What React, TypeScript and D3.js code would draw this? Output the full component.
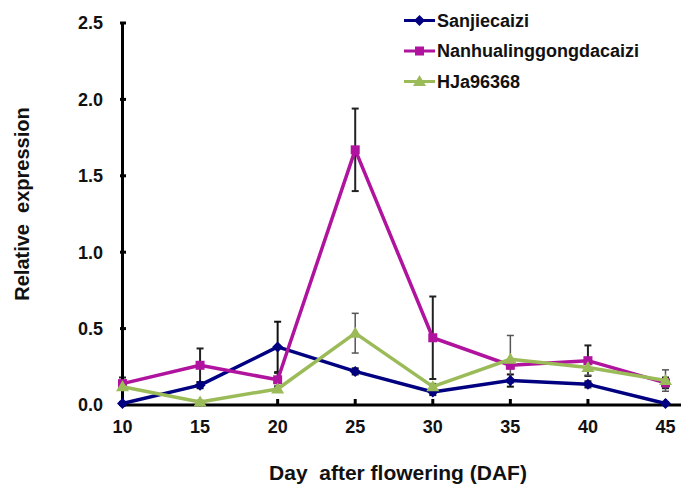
import React from "react";
import * as d3 from "d3";

const days = [10, 15, 20, 25, 30, 35, 40, 45];
const sanjie = [0.01, 0.13, 0.38, 0.22, 0.085, 0.16, 0.135, 0.01];
const sanjieErr = [0.01, 0.02, 0.165, 0.02, 0.02, 0.04, 0.02, 0.01];
const nanhua = [0.14, 0.26, 0.165, 1.67, 0.44, 0.26, 0.29, 0.145];
const nanhuaErr = [0.04, 0.11, 0.045, 0.27, 0.27, 0.02, 0.1, 0.035];
const hja = [0.12, 0.02, 0.105, 0.47, 0.12, 0.3, 0.245, 0.16];
const hjaErr = [0.02, 0.01, 0.02, 0.13, 0.02, 0.155, 0.05, 0.07];
const yTicks = [0, 0.5, 1.0, 1.5, 2.0, 2.5];
const seriesNames = ["Sanjiecaizi", "Nanhualinggongdacaizi", "HJa96368"];

const FONT = "Arial, 'Liberation Sans', Helvetica, sans-serif";

type Series = { name: string; values: number[]; err: number[]; color: string; marker: string; errColor: string; errWidth: number };

const series: Series[] = [
  { name: seriesNames[0], values: sanjie, err: sanjieErr, color: "#000080", marker: "diamond", errColor: "#111", errWidth: 2 },
  { name: seriesNames[1], values: nanhua, err: nanhuaErr, color: "#B0139E", marker: "square", errColor: "#222", errWidth: 2 },
  { name: seriesNames[2], values: hja, err: hjaErr, color: "#9BBB59", marker: "triangle", errColor: "#555", errWidth: 1.5 },
];

function Marker({ type, x, y, color }: { type: string; x: number; y: number; color: string }) {
  if (type === "diamond") {
    const r = 5.5;
    return <path d={`M${x},${y - r}L${x + r},${y}L${x},${y + r}L${x - r},${y}Z`} fill={color} />;
  }
  if (type === "square") {
    const r = 4.5;
    return <rect x={x - r} y={y - r} width={2 * r} height={2 * r} fill={color} />;
  }
  const r = 6.5;
  return <path d={`M${x},${y - r}L${x + r},${y + r * 0.7}L${x - r},${y + r * 0.7}Z`} fill={color} />;
}

export default function App() {
  const x = d3.scaleLinear().domain([10, 45]).range([122.5, 665.5]);
  const y = d3.scaleLinear().domain([0, 2.5]).range([405, 23]);
  const line = d3
    .line<number>()
    .x((_, i) => x(days[i]))
    .y((d) => y(d));

  return (
    <svg width={688} height={499} style={{ position: "absolute", left: 0, top: 0, background: "#fff" }} fontFamily={FONT}>
      <rect width={688} height={499} fill="#fff" />
      {/* error bars */}
      {series.map((s) =>
        s.values.map((v, i) => {
          const cx = x(days[i]);
          const top = y(v + s.err[i]);
          const bot = y(Math.max(0, v - s.err[i]));
          return (
            <g key={s.name + i} stroke={s.errColor} strokeWidth={s.errWidth}>
              <line x1={cx} x2={cx} y1={top} y2={bot} />
              <line x1={cx - 3.5} x2={cx + 3.5} y1={top} y2={top} />
              <line x1={cx - 3.5} x2={cx + 3.5} y1={bot} y2={bot} />
            </g>
          );
        })
      )}
      {/* axes */}
      <g stroke="#000" strokeWidth={3}>
        <line x1={122.5} x2={122.5} y1={23} y2={406} />
        <line x1={121} x2={681} y1={405} y2={405} />
        {yTicks.map((t) => (
          <line key={t} x1={120} x2={126} y1={y(t)} y2={y(t)} />
        ))}
        {days.map((d) => (
          <line key={d} x1={x(d)} x2={x(d)} y1={405} y2={399} />
        ))}
      </g>
      {yTicks.map((t) => (
        <text key={t} x={103} y={y(t)} dy="0.35em" textAnchor="end" fontSize={18} fontWeight="bold" fill="#111">
          {t.toFixed(1)}
        </text>
      ))}
      {days.map((d) => (
        <text key={d} x={x(d)} y={427} dy="0.35em" textAnchor="middle" fontSize={18} fontWeight="bold" fill="#111">
          {d}
        </text>
      ))}
      {/* lines */}
      {series.map((s) => (
        <g key={s.name}>
          <path d={line(s.values) || ""} fill="none" stroke={s.color} strokeWidth={3.5} strokeLinejoin="round" />
          {s.values.map((v, i) => (
            <Marker key={i} type={s.marker} x={x(days[i])} y={y(v)} color={s.color} />
          ))}
        </g>
      ))}
      {/* legend */}
      {series.map((s, i) => {
        const ly = 20.5 + i * 30.5;
        return (
          <g key={s.name}>
            <line x1={404} x2={435} y1={ly} y2={ly} stroke={s.color} strokeWidth={3} />
            <Marker type={s.marker} x={419.5} y={ly} color={s.color} />
            <text x={437} y={ly} dy="0.36em" fontSize={18} fontWeight="bold" fill="#111">
              {s.name}
            </text>
          </g>
        );
      })}
      {/* axis titles */}
      <text
        transform="translate(22,204) rotate(-90)"
        textAnchor="middle"
        dy="0.35em"
        fontSize={20}
        fontWeight="bold"
        fill="#111"
        style={{ whiteSpace: "pre" }}
      >
        {"Relative  expression"}
      </text>
      <text x={398} y={473} dy="0.35em" textAnchor="middle" fontSize={21} fontWeight="bold" fill="#111" style={{ whiteSpace: "pre" }}>
        {"Day  after flowering (DAF)"}
      </text>
    </svg>
  );
}
